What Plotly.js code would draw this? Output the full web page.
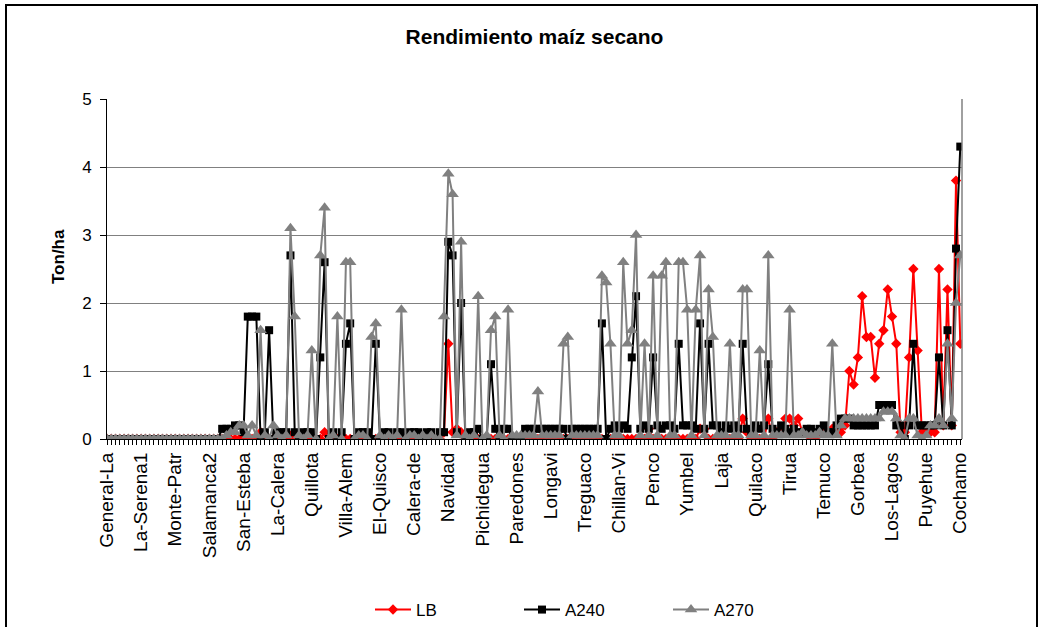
<!DOCTYPE html>
<html>
<head>
<meta charset="utf-8">
<script src="https://cdn.plot.ly/plotly-3.0.1.min.js"></script>
<style>
  html, body { margin: 0; padding: 0; background: #fff; }
  #chart { width: 1044px; height: 627px; }
</style>
</head>
<body>
<div id="chart"></div>
<script>
// Tick labels (every 8th category is labelled)
const tickLabels = ["General-La","La-Serena1","Monte-Patr","Salamanca2","San-Esteba","La-Calera",
  "Quillota","Villa-Alem","El-Quisco","Calera-de","Navidad","Pichidegua","Paredones","Longavi",
  "Treguaco","Chillan-Vi","Penco","Yumbel","Laja","Quilaco","Tirua","Temuco","Gorbea",
  "Los-Lagos","Puyehue","Cochamo"];
const labelEvery = 8;

// Series values (Ton/ha), one per location
const LB = [
  0,0,0,0,0,0,0,0,0,0,
  0,0,0,0,0,0,0,0,0,0,
  0,0,0,0,0,0,0,0,0,0,
  0,0,0,0,0,0,0.1,0,0,0,
  0,0,0,0.05,0,0,0,0,0,0,
  0,0.1,0,0,0,0,0,0,0,0,
  0,0,0,0,0,0,0,0,0,0,
  0,0,0,0,0,0,0,0,0,0.1,
  1.4,0.1,0.15,0.1,0,0,0,0,0,0,
  0,0,0,0,0,0,0,0,0,0,
  0,0,0,0,0,0,0,0,0,0,
  0,0,0,0,0,0,0,0,0,0,
  0,0,0,0,0,0,0,0.15,0,0,
  0,0,0,0,0,0,0,0,0,0.15,
  0.15,0,0,0,0,0,0,0,0,0.3,
  0.1,0,0,0,0,0.3,0,0.1,0.1,0.3,
  0.3,0.2,0.3,0.1,0.1,0,0,0.1,0.1,0.1,
  0.15,0.1,0.1,0.2,1.0,0.8,1.2,2.1,1.5,1.5,
  0.9,1.4,1.6,2.2,1.8,1.4,0.1,0.1,1.2,2.5,
  1.3,0.1,0.1,0.1,0.1,2.5,0.2,2.2,0.2,3.8,
  1.4
];
const A240 = [
  0,0,0,0,0,0,0,0,0,0,
  0,0,0,0,0,0,0,0,0,0,
  0,0,0,0,0,0,0,0.15,0.15,0.15,
  0.2,0.2,0.1,1.8,1.8,1.8,0,0.1,1.6,0,
  0.1,0.1,0.1,2.7,0.1,0,0.1,0.1,0.1,0,
  1.2,2.6,0,0.1,0,0.1,1.4,1.7,0,0.1,
  0.1,0.1,0,1.4,0,0.1,0.1,0,0.1,0.1,
  0,0.1,0.1,0.1,0,0.1,0.1,0,0.1,0.1,
  2.9,2.7,0.1,2.0,0,0.1,0.1,0.15,0,0,
  1.1,0.15,0,0.15,0.15,0,0,0,0.15,0.15,
  0.15,0.15,0.15,0.15,0.15,0.15,0.15,0.15,0,0.15,
  0.15,0.15,0.15,0.15,0.15,0.15,1.7,0,0.15,0.2,
  0.15,0.2,0.15,1.2,2.1,0.15,0.2,0.15,1.2,0.2,
  0.15,0.2,0.2,0.15,1.4,0.2,0.2,0.2,0.15,1.7,
  0.15,1.4,0.2,0.2,0.1,0.2,0.15,0.2,0.15,1.4,
  0.15,0.1,0.2,0.15,0.2,1.1,0.15,0.1,0.2,0.15,
  0.1,0.15,0.1,0.1,0.15,0.15,0.1,0.15,0.2,0.1,
  0.1,0.2,0.3,0.3,0.3,0.2,0.2,0.2,0.2,0.2,
  0.2,0.5,0.5,0.5,0.5,0.2,0.2,0,0.2,1.4,
  0.2,0.2,0.2,0.2,0.2,1.2,0.2,1.6,0.2,2.8,
  4.3
];
const A270 = [
  0,0,0,0,0,0,0,0,0,0,
  0,0,0,0,0,0,0,0,0,0,
  0,0,0,0,0,0,0,0,0.05,0.1,
  0.1,0.2,0.2,0.05,0.2,0.05,1.6,0.05,0,0.2,
  0.05,0,0.05,3.1,1.8,0.05,0,0.05,1.3,0,
  2.7,3.4,0,0.05,1.8,0,2.6,2.6,0,0.05,
  0.05,0,1.5,1.7,0.05,0,0.05,0,0.05,1.9,
  0,0.05,0.05,0,0.05,0,0.05,0,0,1.8,
  3.9,3.6,0.05,2.9,0.05,0,0.05,2.1,0,0.05,
  1.6,1.8,0.05,0,1.9,0.05,0.05,0.05,0.05,0.05,
  0.05,0.7,0.05,0.05,0.05,0.05,0.05,1.4,1.5,0.05,
  0.05,0.05,0.05,0.05,0.05,0.05,2.4,2.3,1.4,0.05,
  0.05,2.6,1.4,1.6,3.0,0.05,1.4,0.05,2.4,0.05,
  2.4,2.6,0.05,0.05,2.6,2.6,1.9,0.05,1.9,2.7,
  0.05,2.2,1.5,0.05,0.05,0.05,1.4,0.05,0.05,2.2,
  2.2,0.05,0.05,1.3,0.05,2.7,0.05,0.05,0.05,0.05,
  1.9,0.05,0.05,0.1,0.05,0.05,0.05,0.1,0.05,0.05,
  1.4,0.05,0.2,0.3,0.3,0.3,0.3,0.3,0.3,0.3,
  0.3,0.3,0.4,0.4,0.4,0.3,0.05,0,0.3,0.3,
  0.05,0,0.05,0.2,0.2,0.3,0.2,1.4,0.3,2.0,
  2.7
];

const idx = LB.map((_, i) => i);
const tickVals = tickLabels.map((_, i) => i * labelEvery);

const FONT = 'Liberation Sans, Arial, sans-serif';

const traces = [
  { x: idx, y: LB, name: 'LB', type: 'scatter', mode: 'lines+markers',
    line: { color: '#FF0000', width: 2 },
    marker: { symbol: 'diamond', size: 8, color: '#FF0000' } },
  { x: idx, y: A240, name: 'A240', type: 'scatter', mode: 'lines+markers',
    line: { color: '#000000', width: 2 },
    marker: { symbol: 'square', size: 8, color: '#000000' } },
  { x: idx, y: A270, name: 'A270', type: 'scatter', mode: 'lines+markers',
    line: { color: '#808080', width: 2 },
    marker: { symbol: 'triangle-up', size: 11, color: '#808080' } }
];

const layout = {
  width: 1044, height: 627,
  paper_bgcolor: '#fff', plot_bgcolor: '#fff',
  margin: { l: 107, r: 82, t: 99, b: 188, autoexpand: false },
  font: { family: FONT, color: '#000', size: 16 },
  title: { text: '<b>Rendimiento maíz secano</b>', font: { family: FONT, size: 21, color: '#000' },
           x: 0.5, xref: 'paper', xanchor: 'center', y: 1 - 37 / 627, yref: 'container', yanchor: 'middle' },
  showlegend: true,
  legend: { orientation: 'h', x: (370 - 107) / 855, xanchor: 'left', xref: 'paper', y: -0.503, yanchor: 'middle',
            font: { family: FONT, size: 17, color: '#000' }, itemwidth: 36, entrywidth: 98, traceorder: 'normal' },
  xaxis: {
    range: [0, 200.4], showgrid: false, zeroline: false,
    showline: true, linecolor: '#000', linewidth: 1,
    tickmode: 'array', tickvals: tickVals, ticktext: tickLabels, tickangle: -90,
    ticks: 'outside', ticklen: 5, tickcolor: '#000', tickwidth: 1,
    minor: { ticks: 'outside', ticklen: 5, tickcolor: '#000', tickwidth: 1, tickmode: 'linear', tick0: 0, dtick: 1, showgrid: false },
    tickfont: { family: FONT, size: 19, color: '#000' }, fixedrange: true
  },
  yaxis: {
    range: [0, 5], dtick: 1, tick0: 0,
    showgrid: true, gridcolor: '#808080', gridwidth: 1, zeroline: false,
    showline: true, linecolor: '#000', linewidth: 1,
    ticks: 'outside', ticklen: 6, tickcolor: '#000', ticklabelstandoff: 5,
    tickfont: { family: FONT, size: 17, color: '#000' },
    fixedrange: true
  },
  annotations: [
    { text: '<b>Ton/ha</b>', textangle: -90, xref: 'paper', yref: 'paper',
      x: (58 - 107) / 855, y: (439 - 257) / 340, xanchor: 'center', yanchor: 'middle',
      showarrow: false, font: { family: FONT, size: 17, color: '#000' } }
  ],
  shapes: [
    { type: 'line', xref: 'paper', yref: 'paper', x0: 1, x1: 1, y0: 0, y1: 1,
      line: { color: '#808080', width: 1.5 } },
    { type: 'rect', xref: 'paper', yref: 'paper',
      x0: (6 - 107) / 855, x1: (1037 - 107) / 855, y0: -0.7, y1: (439 - 5) / 340,
      line: { color: '#000', width: 2 }, fillcolor: 'rgba(0,0,0,0)' }
  ]
};

Plotly.newPlot('chart', traces, layout, { displayModeBar: false, staticPlot: true });
</script>
</body>
</html>
